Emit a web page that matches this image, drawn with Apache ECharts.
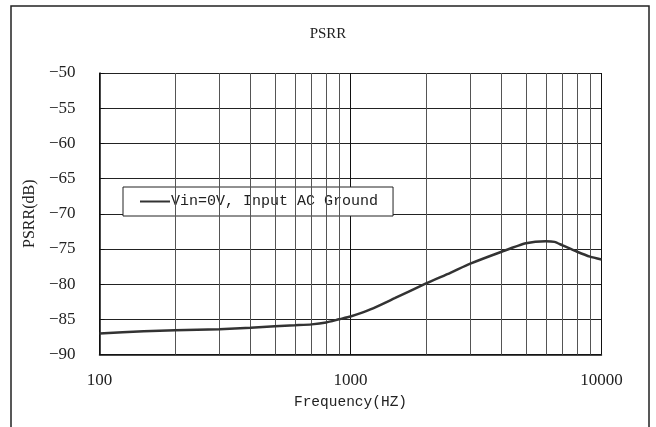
<!DOCTYPE html>
<html><head><meta charset="utf-8">
<script src="https://cdn.jsdelivr.net/npm/echarts@6/dist/echarts.min.js"></script>
<style>html,body{margin:0;padding:0;background:#fff}#c{width:656px;height:427px}</style>
</head><body><div id="c"></div>
<script>
const freqs = [100,150,200,300,400,500,600,700,800,900,1000,1200,1500,2000,2500,3000,4000,5000,6000,6500,7000,8000,9000,10000];
const psrr  = [-87,-86.7,-86.55,-86.4,-86.2,-86.0,-85.85,-85.72,-85.45,-85.0,-84.6,-83.6,-82.0,-79.9,-78.4,-77.1,-75.4,-74.2,-73.9,-74.0,-74.5,-75.4,-76.1,-76.5];
const minorGrid = [200,300,400,500,600,700,800,900,2000,3000,4000,5000,6000,7000,8000,9000];
const seriesName = 'Vin=0V, Input AC Ground';

const chart = echarts.init(document.getElementById('c'));
chart.setOption({
  backgroundColor: '#fff',
  animation: false,
  title: { text: 'PSRR', left: 'center', top: 22,
    textStyle: { fontFamily: 'Liberation Serif', fontSize: 15, fontWeight: 'normal', color: '#222' } },
  grid: { left: 99.5, right: 54.5, top: 73, bottom: 72.5 },
  legend: {
    left: 123, top: 187, orient: 'horizontal',
    backgroundColor: '#fff', borderColor: '#222', borderWidth: 1,
    padding: [7, 15, 7, 17], itemWidth: 30, itemHeight: 14,
    textStyle: { fontFamily: 'Liberation Mono', fontSize: 15, color: '#222', padding: [0,0,0,-4] },
    data: [{ name: seriesName, icon: 'path://M0,0 L30,0 L30,2 L0,2 Z' }]
  },
  xAxis: {
    type: 'log', logBase: 10, min: 100, max: 10000,
    name: 'Frequency(HZ)', nameLocation: 'middle', nameGap: 40,
    nameTextStyle: { fontFamily: 'Liberation Mono', fontSize: 14.5, color: '#222' },
    axisLine: { lineStyle: { color: '#111', width: 1.5 } },
    axisTick: { show: false },
    axisLabel: { margin: 18, fontFamily: 'Liberation Serif', fontSize: 17, color: '#222',
      formatter: v => String(Math.round(v)) },
    splitLine: { show: true, lineStyle: { color: '#111', width: 1 } }
  },
  yAxis: {
    type: 'value', min: -90, max: -50, interval: 5,
    name: 'PSRR(dB)', nameLocation: 'middle', nameGap: 62,
    nameTextStyle: { fontFamily: 'Liberation Serif', fontSize: 16, color: '#222' },
    axisLine: { show: true, lineStyle: { color: '#111', width: 1.5 } },
    axisTick: { show: true, inside: true, length: 5, lineStyle: { color: '#111' } },
    axisLabel: { margin: 24, fontFamily: 'Liberation Serif', fontSize: 17, color: '#222',
      formatter: v => String(v).replace('-', '\u2212') },
    splitLine: { show: true, lineStyle: { color: '#222', width: 1 } }
  },
  series: [
    { name: 'minor', type: 'line', data: [], silent: true,
      markLine: { silent: true, symbol: 'none', label: { show: false },
        lineStyle: { color: '#555', width: 1, type: 'solid' },
        data: minorGrid.map(f => ({ xAxis: f })) } },
    { name: seriesName, type: 'line', smooth: 0.2, showSymbol: false, symbol: 'none',
      lineStyle: { color: '#333', width: 2.5 }, itemStyle: { color: '#333' },
      data: freqs.map((f, i) => [f, psrr[i]]), z: 5 }
  ],
  graphic: [{ type: 'rect', shape: { x: 11, y: 6, width: 638, height: 440 },
    style: { fill: null, stroke: '#222', lineWidth: 1.5 }, silent: true }]
});
</script></body></html>
